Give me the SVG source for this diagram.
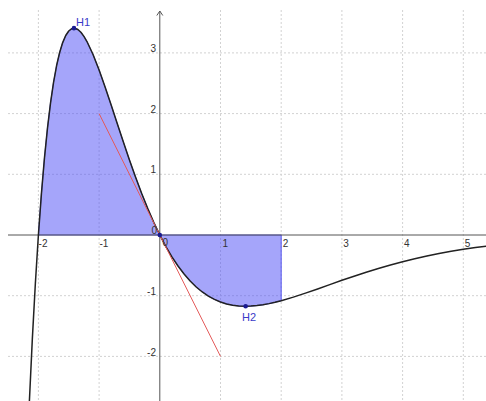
<svg xmlns="http://www.w3.org/2000/svg" width="486" height="401" viewBox="0 0 486 401">
<style>
.grid{stroke:#d2d2d2;stroke-width:1;stroke-dasharray:2 2;fill:none}
.axis{stroke:#555;stroke-width:1;fill:none}
.tick{font-family:"Liberation Sans",Arial,sans-serif;font-size:10px;fill:#333}
.ylab{text-anchor:end}
.ptlab{font-family:"Liberation Sans",Arial,sans-serif;font-size:11px;fill:#3a3ac8}
.pt{fill:#1a1a90}
</style>
<rect width="486" height="401" fill="#fff"/>
<g id="grid" class="grid">
<path d="M38.4 10V401M99.1 10V401M220.5 10V401M281.2 10V401M341.9 10V401M402.6 10V401M463.3 10V401"/>
<path d="M8 52.9H486M8 113.6H486M8 174.3H486M8 295.7H486M8 356.4H486"/>
</g>
<g id="region">
<path d="M38.4 235 L41.44 193.4 L44.47 157.89 L47.51 127.88 L50.54 102.8 L53.58 82.18 L56.61 65.54 L59.65 52.47 L62.68 42.59 L65.72 35.52 L68.75 30.97 L71.79 28.63 L73.96 28.16 L74.82 28.23 L77.86 29.54 L80.89 32.32 L83.93 36.38 L86.96 41.53 L93.03 54.47 L99.1 70 L105.17 87.2 L111.24 105.31 L117.31 123.77 L123.38 142.09 L129.45 159.94 L135.52 177.05 L141.59 193.21 L147.66 208.31 L153.73 222.25 L159.8 235 L165.87 246.53 L171.94 256.87 L178.01 266.03 L184.08 274.06 L190.15 281.02 L196.22 286.97 L202.29 291.97 L208.36 296.09 L214.43 299.41 L220.5 301.99 L226.57 303.91 L232.64 305.2 L238.71 305.97 L245.64 306.26 L250.85 306.1 L256.92 305.59 L262.99 304.75 L269.06 303.63 L275.13 302.28 L281.2 300.72 L281.2 235 Z" fill="#4c4cf5" fill-opacity="0.5" stroke="#5a5af0" stroke-width="1"/>
</g>
<g id="axes" class="axis">
<path d="M8 235H486"/>
<path d="M159.8 11V401"/>
<path d="M156.8 15.5L159.8 11L162.8 15.5"/>
</g>
<g id="ticklabels" class="tick">
<text x="38.6" y="246.5">-2</text>
<text x="99.5" y="246.5">-1</text>
<text x="222.5" y="246.5">1</text>
<text x="282.8" y="246.5">2</text>
<text x="343.3" y="246.5">3</text>
<text x="404" y="246.5">4</text>
<text x="464.8" y="246.5">5</text>
<text class="ylab" x="156" y="51.5">3</text>
<text class="ylab" x="156" y="112.5">2</text>
<text class="ylab" x="156" y="173">1</text>
<text class="ylab" x="156" y="294.5">-1</text>
<text class="ylab" x="156" y="355.5">-2</text>
</g>
<g id="curve">
<path d="M29.3 403.1 L32.33 339.1 L35.37 283.33 L38.4 235 L41.44 193.4 L44.47 157.89 L47.51 127.88 L50.54 102.8 L53.58 82.18 L56.61 65.54 L59.65 52.47 L62.68 42.59 L65.72 35.52 L68.75 30.97 L71.79 28.63 L73.96 28.16 L74.82 28.23 L77.86 29.54 L80.89 32.32 L83.93 36.38 L86.96 41.53 L93.03 54.47 L99.1 70 L105.17 87.2 L111.24 105.31 L117.31 123.77 L123.38 142.09 L129.45 159.94 L135.52 177.05 L141.59 193.21 L147.66 208.31 L153.73 222.25 L159.8 235 L165.87 246.53 L171.94 256.87 L178.01 266.03 L184.08 274.06 L190.15 281.02 L196.22 286.97 L202.29 291.97 L208.36 296.09 L214.43 299.41 L220.5 301.99 L226.57 303.91 L232.64 305.2 L238.71 305.97 L245.64 306.26 L250.85 306.1 L256.92 305.59 L262.99 304.75 L269.06 303.63 L275.13 302.28 L281.2 300.72 L293.34 297.15 L305.48 293.15 L317.62 288.92 L329.76 284.6 L341.9 280.33 L354.04 276.17 L366.18 272.19 L378.32 268.43 L390.46 264.93 L402.6 261.68 L414.74 258.7 L426.88 255.99 L439.02 253.53 L451.16 251.3 L463.3 249.31 L475.44 247.54 L487.58 245.96" fill="none" stroke="#222" stroke-width="1.5" stroke-linejoin="round"/>
</g>
<g id="tangent">
<line x1="99.1" y1="113.6" x2="220.5" y2="356.4" stroke="#e45a5a" stroke-width="1"/>
</g>
<g id="origin">
<circle class="pt" cx="159.8" cy="235" r="2.3"/>
<text class="tick" x="151.5" y="234" fill="#334">0</text>
<text class="tick" x="162.5" y="246" fill="#334">0</text>
</g>
<g id="H1">
<circle class="pt" cx="73.96" cy="28.16" r="2.3"/>
<text class="ptlab" x="76" y="25.5">H1</text>
</g>
<g id="H2">
<circle class="pt" cx="245.64" cy="306.26" r="2.3"/>
<text class="ptlab" x="242" y="321">H2</text>
</g>
</svg>
